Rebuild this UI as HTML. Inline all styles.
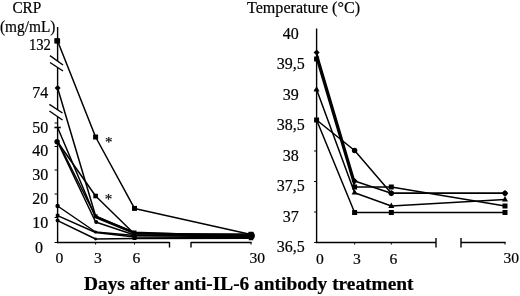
<!DOCTYPE html>
<html><head><meta charset="utf-8"><title>CRP and temperature after anti-IL-6 antibody treatment</title>
<style>
html,body{margin:0;padding:0;background:#fff;}
body{width:520px;height:296px;overflow:hidden;}
svg text{stroke:#000;stroke-width:0.2px;}
svg{display:block;will-change:transform;font-family:"Liberation Serif","DejaVu Serif",serif;fill:#000;}
</style></head><body>
<svg width="520" height="296" viewBox="0 0 520 296">
<rect x="0" y="0" width="520" height="296" fill="#fff"/>
<line x1="57.6" y1="27" x2="57.6" y2="61" stroke="#000" stroke-width="1.4"/>
<line x1="57.6" y1="67.6" x2="57.6" y2="110" stroke="#000" stroke-width="1.4"/>
<line x1="57.6" y1="116.7" x2="57.6" y2="243.1" stroke="#000" stroke-width="1.4"/>
<line x1="50" y1="55.6" x2="63" y2="65" stroke="#000" stroke-width="1.4"/>
<line x1="50" y1="62.5" x2="63" y2="71" stroke="#000" stroke-width="1.4"/>
<line x1="49.4" y1="104.4" x2="62.5" y2="113" stroke="#000" stroke-width="1.4"/>
<line x1="49.4" y1="111" x2="62.5" y2="120" stroke="#000" stroke-width="1.4"/>
<line x1="54.6" y1="123" x2="57.6" y2="123" stroke="#000" stroke-width="1"/>
<line x1="54.6" y1="146.5" x2="57.6" y2="146.5" stroke="#000" stroke-width="1"/>
<line x1="54.6" y1="170" x2="57.6" y2="170" stroke="#000" stroke-width="1"/>
<line x1="54.6" y1="194" x2="57.6" y2="194" stroke="#000" stroke-width="1"/>
<line x1="54.6" y1="217.5" x2="57.6" y2="217.5" stroke="#000" stroke-width="1"/>
<line x1="54.6" y1="242.5" x2="57.6" y2="242.5" stroke="#000" stroke-width="1"/>
<line x1="57" y1="242.5" x2="169.5" y2="242.5" stroke="#000" stroke-width="1.4"/>
<line x1="191" y1="242.5" x2="251.5" y2="242.5" stroke="#000" stroke-width="1.4"/>
<line x1="169.5" y1="242" x2="169.5" y2="247.5" stroke="#000" stroke-width="1.4"/>
<line x1="191" y1="242" x2="191" y2="247.5" stroke="#000" stroke-width="1.4"/>
<line x1="251" y1="242" x2="251" y2="244.5" stroke="#000" stroke-width="1"/>
<line x1="95.6" y1="242.5" x2="95.6" y2="244.5" stroke="#000" stroke-width="1"/>
<line x1="134.5" y1="242.5" x2="134.5" y2="244.5" stroke="#000" stroke-width="1"/>
<polyline points="57.6,41 95.6,137 134.5,208.4 251,234.5" fill="none" stroke="#000" stroke-width="1.5" stroke-linejoin="round"/>
<polyline points="57.6,88 95.6,216 134.5,233 251,235" fill="none" stroke="#000" stroke-width="1.5" stroke-linejoin="round"/>
<polyline points="57.6,127.5 95.6,217.5 134.5,233.5 251,236" fill="none" stroke="#000" stroke-width="1.5" stroke-linejoin="round"/>
<polyline points="57.6,142 95.6,196 134.5,234 251,234" fill="none" stroke="#000" stroke-width="1.5" stroke-linejoin="round"/>
<polyline points="57.6,142 95.6,222 134.5,235 251,235.5" fill="none" stroke="#000" stroke-width="1.5" stroke-linejoin="round"/>
<polyline points="57.6,141 95.6,216.5 134.5,232.3 251,236.5" fill="none" stroke="#000" stroke-width="1.5" stroke-linejoin="round"/>
<polyline points="57.6,206 95.6,232 134.5,235.5 251,237" fill="none" stroke="#000" stroke-width="1.5" stroke-linejoin="round"/>
<polyline points="57.6,215.6 95.6,232.5 134.5,237 251,237.5" fill="none" stroke="#000" stroke-width="1.5" stroke-linejoin="round"/>
<polyline points="57.6,220.6 95.6,239 134.5,238.5 251,238.2" fill="none" stroke="#000" stroke-width="1.5" stroke-linejoin="round"/>
<rect x="55.1" y="38.5" width="5" height="5" fill="#000"/>
<rect x="93.1" y="134.5" width="5" height="5" fill="#000"/>
<rect x="132" y="205.9" width="5" height="5" fill="#000"/>
<rect x="248.5" y="232" width="5" height="5" fill="#000"/>
<rect x="54.3" y="38.2" width="5.2" height="5.2" fill="#000"/>
<polygon points="57.6,85 60.6,88 57.6,91 54.6,88" fill="#000"/>
<line x1="54.4" y1="127.5" x2="60.8" y2="127.5" stroke="#000" stroke-width="1.6"/>
<circle cx="57.1" cy="141.8" r="2.7" fill="#000"/>
<rect x="93.3" y="193.7" width="4.6" height="4.6" fill="#000"/>
<circle cx="57.6" cy="206" r="2.2" fill="#000"/>
<rect x="55.8" y="213.8" width="3.6" height="3.6" fill="#000"/>
<circle cx="57.6" cy="220.6" r="2" fill="#000"/>
<rect x="93.6" y="214.3" width="4" height="4" fill="#000"/>
<circle cx="96.2" cy="222" r="2" fill="#000"/>
<circle cx="95.6" cy="232" r="1.6" fill="#000"/>
<circle cx="95.6" cy="239" r="1.4" fill="#000"/>
<rect x="132.5" y="230.5" width="4" height="4" fill="#000"/>
<rect x="132.5" y="232" width="4" height="4" fill="#000"/>
<rect x="132.5" y="233.5" width="4" height="4" fill="#000"/>
<rect x="132.5" y="235" width="4" height="4" fill="#000"/>
<rect x="132.5" y="236" width="4" height="4" fill="#000"/>
<rect x="248.75" y="231.75" width="4.5" height="4.5" fill="#000"/>
<rect x="248.75" y="233.75" width="4.5" height="4.5" fill="#000"/>
<rect x="248.75" y="235.75" width="4.5" height="4.5" fill="#000"/>
<circle cx="251.3" cy="235.8" r="3.6" fill="#000"/>
<text x="108.75" y="146.5" font-size="15" text-anchor="middle">*</text>
<text x="108.5" y="203.8" font-size="15" text-anchor="middle">*</text>
<text x="12.4" y="12.6" font-size="15.7" text-anchor="start" textLength="29" lengthAdjust="spacingAndGlyphs">CRP</text>
<text x="0" y="32.4" font-size="15.7" text-anchor="start" textLength="55.4" lengthAdjust="spacingAndGlyphs">(mg/mL)</text>
<text x="48.3" y="98.15" font-size="16" text-anchor="end">74</text>
<text x="48.3" y="133.4" font-size="16" text-anchor="end">50</text>
<text x="48.3" y="156.4" font-size="16" text-anchor="end">40</text>
<text x="48.3" y="180.4" font-size="16" text-anchor="end">30</text>
<text x="48.3" y="204.15" font-size="16" text-anchor="end">20</text>
<text x="48.3" y="227.9" font-size="16" text-anchor="end">10</text>
<text x="42.9" y="252.8" font-size="16" text-anchor="end">0</text>
<text x="50.9" y="49.8" font-size="16" text-anchor="end" textLength="22" lengthAdjust="spacingAndGlyphs">132</text>
<text x="59.5" y="263.1" font-size="15.6" text-anchor="middle">0</text>
<text x="98" y="263.1" font-size="15.6" text-anchor="middle">3</text>
<text x="136.5" y="263.1" font-size="15.6" text-anchor="middle">6</text>
<text x="257.2" y="263.1" font-size="15.6" text-anchor="middle">30</text>
<line x1="316.6" y1="28.5" x2="316.6" y2="243.1" stroke="#000" stroke-width="1.4"/>
<line x1="314.1" y1="59.5" x2="316.6" y2="59.5" stroke="#000" stroke-width="1"/>
<line x1="314.1" y1="90" x2="316.6" y2="90" stroke="#000" stroke-width="1"/>
<line x1="314.1" y1="120.5" x2="316.6" y2="120.5" stroke="#000" stroke-width="1"/>
<line x1="314.1" y1="151" x2="316.6" y2="151" stroke="#000" stroke-width="1"/>
<line x1="314.1" y1="181.5" x2="316.6" y2="181.5" stroke="#000" stroke-width="1"/>
<line x1="314.1" y1="212" x2="316.6" y2="212" stroke="#000" stroke-width="1"/>
<line x1="314.1" y1="242.5" x2="316.6" y2="242.5" stroke="#000" stroke-width="1"/>
<line x1="316" y1="242.5" x2="436" y2="242.5" stroke="#000" stroke-width="1.4"/>
<line x1="461" y1="242.5" x2="505.5" y2="242.5" stroke="#000" stroke-width="1.4"/>
<line x1="436" y1="238" x2="436" y2="247.5" stroke="#000" stroke-width="1.4"/>
<line x1="461" y1="238" x2="461" y2="247.5" stroke="#000" stroke-width="1.4"/>
<line x1="505" y1="242" x2="505" y2="244.5" stroke="#000" stroke-width="1"/>
<line x1="354.6" y1="242.5" x2="354.6" y2="244.5" stroke="#000" stroke-width="1"/>
<line x1="391.3" y1="242.5" x2="391.3" y2="244.5" stroke="#000" stroke-width="1"/>
<polyline points="316.6,52.5 354.6,181 391.3,193.3 505,193.3" fill="none" stroke="#000" stroke-width="1.5" stroke-linejoin="round"/>
<polyline points="316.6,59 354.6,187 391.3,187 505,206" fill="none" stroke="#000" stroke-width="1.5" stroke-linejoin="round"/>
<polyline points="316.6,89.5 354.6,192.7 391.3,206 505,199.5" fill="none" stroke="#000" stroke-width="1.5" stroke-linejoin="round"/>
<polyline points="316.6,120 354.6,212.5 391.3,212.5 505,212.5" fill="none" stroke="#000" stroke-width="1.5" stroke-linejoin="round"/>
<polyline points="316.6,120 354.6,150.5 391.3,193.3 505,193.3" fill="none" stroke="#000" stroke-width="1.5" stroke-linejoin="round"/>
<polyline points="316.6,55.75 354.6,184" fill="none" stroke="#000" stroke-width="1.6" stroke-linejoin="round"/>
<polygon points="316.6,49.5 319.6,52.5 316.6,55.5 313.6,52.5" fill="#000"/>
<polygon points="354.6,178 357.6,181 354.6,184 351.6,181" fill="#000"/>
<polygon points="391.3,190.3 394.3,193.3 391.3,196.3 388.3,193.3" fill="#000"/>
<polygon points="505,190.1 508.2,193.3 505,196.5 501.8,193.3" fill="#000"/>
<rect x="314.1" y="56.5" width="5" height="5" fill="#000"/>
<rect x="352.1" y="184.5" width="5" height="5" fill="#000"/>
<rect x="388.8" y="184.5" width="5" height="5" fill="#000"/>
<rect x="502.5" y="203.5" width="5" height="5" fill="#000"/>
<polygon points="316.6,86 319.6,91.4 313.6,91.4" fill="#000"/>
<polygon points="354.6,189.2 357.6,194.6 351.6,194.6" fill="#000"/>
<polygon points="391.3,202.5 394.3,207.9 388.3,207.9" fill="#000"/>
<polygon points="505,196 508,201.4 502,201.4" fill="#000"/>
<rect x="314.1" y="117.5" width="5" height="5" fill="#000"/>
<rect x="352.1" y="210" width="5" height="5" fill="#000"/>
<rect x="388.8" y="210" width="5" height="5" fill="#000"/>
<rect x="502.5" y="210" width="5" height="5" fill="#000"/>
<circle cx="354.6" cy="150.5" r="2.7" fill="#000"/>
<circle cx="391.3" cy="193.3" r="2.7" fill="#000"/>
<circle cx="505" cy="193.3" r="2.5" fill="#000"/>
<text x="247" y="12.5" font-size="16" text-anchor="start" textLength="113" lengthAdjust="spacingAndGlyphs">Temperature (°C)</text>
<text x="290.7" y="38.6" font-size="16" text-anchor="middle">40</text>
<text x="290.7" y="68.6" font-size="16" text-anchor="middle">39,5</text>
<text x="290.7" y="99.85" font-size="16" text-anchor="middle">39</text>
<text x="290.7" y="129.85" font-size="16" text-anchor="middle">38,5</text>
<text x="290.7" y="161.1" font-size="16" text-anchor="middle">38</text>
<text x="290.7" y="191.1" font-size="16" text-anchor="middle">37,5</text>
<text x="290.7" y="222.1" font-size="16" text-anchor="middle">37</text>
<text x="290.7" y="252.1" font-size="16" text-anchor="middle">36,5</text>
<text x="320" y="263.8" font-size="15.6" text-anchor="middle">0</text>
<text x="357" y="263.8" font-size="15.6" text-anchor="middle">3</text>
<text x="393.5" y="263.8" font-size="15.6" text-anchor="middle">6</text>
<text x="503.4" y="263.4" font-size="15.6" text-anchor="start">30</text>
<text x="84" y="290.4" font-size="18" text-anchor="start" font-weight="bold" textLength="329.5" lengthAdjust="spacingAndGlyphs">Days after anti-IL-6 antibody treatment</text>
</svg>
</body></html>
